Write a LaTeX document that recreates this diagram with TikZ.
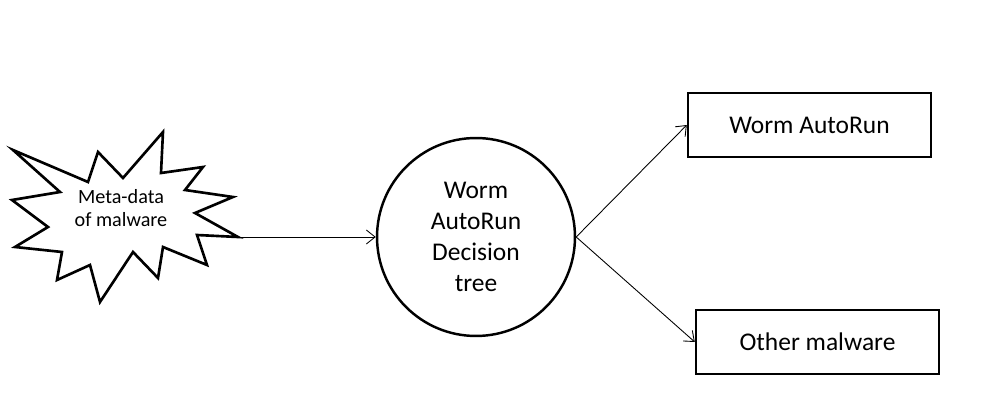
\documentclass[tikz,border=0pt]{standalone}
\usepackage{fontspec}
\setmainfont{Carlito}
\usetikzlibrary{arrows.meta}

\begin{document}
\begin{tikzpicture}[x = 0.02cm, y = -0.02cm, > = {Straight Barb[length = 5pt, width = 8pt]},
	outcome/.style = {draw, line width = 1.4pt, minimum width = 4.86cm, minimum height = 1.28cm, inner sep = 0pt, font = \fontsize{14.5}{17.5}\selectfont},
	flow/.style = {->, line width = 0.5pt}]

	\useasboundingbox (0, 0) rectangle (995, 415);

	% Input burst
	
	\draw [line width = 1.5pt, line join = miter] (13, 150) -- (88, 182) -- (98, 152) -- (123, 178) -- (163, 132) -- (161, 173)
		-- (203, 167) -- (185, 190) -- (233, 197) -- (195, 213) -- (238, 237) -- (197, 235) -- (207, 265)
		-- (163, 247) -- (158, 278) -- (133, 252) -- (100, 302) -- (90, 265) -- (57, 280) -- (62, 252)
		-- (15, 247) -- (48, 227) -- (12, 200) -- (60, 192) -- cycle;
	\node [align = center, font = \fontsize{11.5}{13.5}\selectfont] (meta) at (121, 208) {Meta-data\\of malware};
	\coordinate (burst tip) at (238, 237);

	% Classifier
	
	\node [draw, circle, line width = 1.4pt, minimum size = 3.96cm, inner sep = 0pt, align = center,
		font = \fontsize{14.5}{17.5}\selectfont] (tree) at (476, 237) {Worm\\AutoRun\\Decision\\tree};

	% Classes
	
	\node [outcome] (worm) at (809.5, 125) {Worm AutoRun};
	\node [outcome] (other) at (817.5, 342) {Other malware};

	% Arrows
	
	\draw [flow] (burst tip) -- (tree.west);
	\draw [flow] (tree.east) -- (worm.west);
	\draw [flow] (tree.east) -- (other.west);

\end{tikzpicture}
\end{document}
